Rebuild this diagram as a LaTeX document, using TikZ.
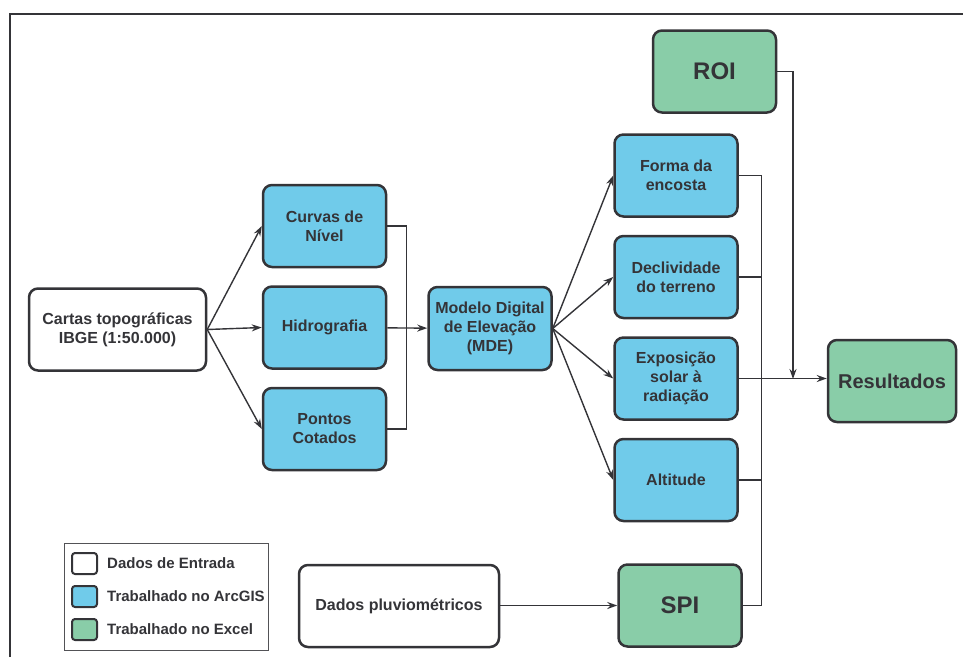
\documentclass[tikz,border=0pt]{standalone}
\usepackage{fontspec}
\setmainfont{Liberation Sans}
\usetikzlibrary{arrows.meta, positioning}

\definecolor{azulArc}{RGB}{112,203,234}
\definecolor{verdeExc}{RGB}{137,205,168}
\definecolor{contorno}{RGB}{52,52,56}

\begin{document}
\begin{tikzpicture}[
    x=1pt, y=-1pt,
    every node/.style={font=\bfseries\fontsize{16}{19}\selectfont, text=contorno},
    entrada/.style={draw=contorno, line width=2.5pt, rectangle, rounded corners=9pt, align=center, fill=white, minimum height=82pt},
    arcgis/.style={entrada, fill=azulArc, minimum width=123pt},
    excel/.style={entrada, fill=verdeExc, minimum width=123pt},
    swatch/.style={draw=contorno, line width=2pt, rounded corners=3pt, minimum width=25pt, minimum height=21pt, inner sep=0pt},
    legtexto/.style={font=\bfseries\fontsize{15}{18}\selectfont, inner sep=0pt, anchor=west},
    arrow/.style={-{Stealth[length=10pt, width=7pt]}, draw=contorno, line width=1.4pt},
    linha/.style={draw=contorno, line width=1.4pt}
]
\useasboundingbox (0,0) rectangle (963,657);

% frame (open on the right and bottom)
\draw[contorno, line width=2.5pt] (10,657) -- (10,14) -- (963,14);

% input data
\node[entrada, minimum width=177pt] (cartas) at (117.5,329.5) {Cartas topográficas\\IBGE (1:50.000)};

% first column
\node[arcgis] (curvas) at (324.5,226) {Curvas de\\Nível};
\node[arcgis, below=17pt of curvas] (hidro) {Hidrografia};
\node[arcgis, below=17pt of hidro] (pontos) {Pontos\\Cotados};

% MDE
\node[arcgis, minimum height=83pt] (mde) at (490,328.5) {Modelo Digital\\de Elevação\\(MDE)};

% derived layers
\node[arcgis] (forma) at (676,175.5) {Forma da\\encosta};
\node[arcgis, below=17pt of forma] (decliv) {Declividade\\do terreno};
\node[arcgis, below=17pt of decliv] (expos) {Exposição\\solar à\\radiação};
\node[arcgis, below=17pt of expos] (altitude) {Altitude};

% excel nodes
\node[excel, font=\bfseries\fontsize{24}{28}\selectfont] (roi) at (714.5,71.5) {ROI};
\node[excel, font=\bfseries\fontsize{24}{28}\selectfont] (spi) at (680,605.5) {SPI};
\node[excel, minimum width=128pt, font=\bfseries\fontsize{20}{24}\selectfont] (result) at (892,381) {Resultados};

% rainfall data
\node[entrada, minimum width=200pt] (pluvio) at (399,606) {Dados pluviométricos};

% legend
\node[draw=contorno!85, line width=1.2pt, minimum width=204pt, minimum height=107pt] (legenda) at (166.5,597) {};
\node[swatch, fill=white] (legEntrada) at (84.5,563.5) {};
\node[swatch, fill=azulArc, below=10pt of legEntrada] (legArc) {};
\node[swatch, fill=verdeExc, below=10pt of legArc] (legExc) {};
\node[legtexto, right=9pt of legEntrada] (txtEntrada) {Dados de Entrada};
\node[legtexto, right=9pt of legArc] (txtArc) {Trabalhado no ArcGIS};
\node[legtexto, right=9pt of legExc] (txtExc) {Trabalhado no Excel};

% arrows from the charts
\draw[arrow] (cartas.east) -- (curvas.west);
\draw[arrow] (cartas.east) -- (hidro.west);
\draw[arrow] (cartas.east) -- (pontos.west);

% bracket into MDE
\draw[linha] (curvas.east) -- ++(19,0) |- (pontos.east);
\draw[arrow] (hidro) -- (mde);

% arrows from MDE
\draw[arrow] (mde.east) -- (forma.west);
\draw[arrow] (mde.east) -- (decliv.west);
\draw[arrow] (mde.east) -- (expos.west);
\draw[arrow] (mde.east) -- (altitude.west);

% collector to results
\draw[linha] (forma.east) -- ++(23,0) |- (spi.east);
\draw[linha] (decliv.east) -- ++(23,0);
\draw[linha] (altitude.east) -- ++(23,0);
\draw[arrow] (expos.east) -- (expos.east -| result.west);

% ROI into the results line
\coordinate (juncao) at (793,379);
\draw[arrow] (roi.east) -| (juncao);

% rainfall to SPI
\draw[arrow] (pluvio.east |- spi.west) -- (spi.west);

\end{tikzpicture}
\end{document}
